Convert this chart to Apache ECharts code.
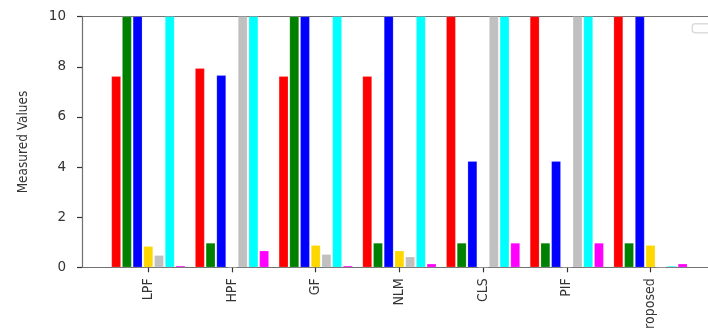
<!DOCTYPE html>
<html>
<head>
<meta charset="utf-8">
<script src="https://cdn.jsdelivr.net/npm/echarts@6/dist/echarts.min.js"></script>
<style>
  html, body { margin: 0; padding: 0; background: #fff; }
  #chart { width: 708px; height: 328px; }
</style>
</head>
<body>
<div id="chart"></div>
<script>
// Filtering methods compared along the x axis
var methods = ['LPF', 'HPF', 'GF', 'NLM', 'CLS', 'PIF', 'Proposed'];

// One array per measure (values above 10 run off the top of the axis)
var measureRed     = [7.62, 7.94, 7.62, 7.62, 12, 12, 12];
var measureGreen   = [12, 0.97, 12, 0.97, 0.97, 0.97, 0.97];
var measureBlue    = [12, 7.66, 12, 12, 4.23, 4.23, 12];
var measureGold    = [0.84, 0, 0.88, 0.66, 0, 0, 0.88];
var measureSilver  = [0.48, 12, 0.52, 0.42, 12, 12, 0];
var measureCyan    = [12, 12, 12, 12, 12, 12, 0.05];
var measureMagenta = [0.06, 0.66, 0.06, 0.14, 0.97, 0.97, 0.14];

var yTicks = [0, 2, 4, 6, 8, 10];

var measures = [
  { name: 'M1', data: measureRed,     color: '#ff0000' },
  { name: 'M2', data: measureGreen,   color: '#008000' },
  { name: 'M3', data: measureBlue,    color: '#0000ff' },
  { name: 'M4', data: measureGold,    color: '#ffd700' },
  { name: 'M5', data: measureSilver,  color: '#c0c0c0' },
  { name: 'M6', data: measureCyan,    color: '#00ffff' },
  { name: 'M7', data: measureMagenta, color: '#ff00ff' }
];

var spine = '#707070';
var textColor = '#333';
var narrowFont = '"DejaVu Sans Condensed", "Liberation Sans Narrow", "Liberation Sans", sans-serif';

var chart = echarts.init(document.getElementById('chart'), null, { renderer: 'canvas' });

var option = {
  animation: false,
  backgroundColor: '#fff',
  grid: [
    // bar area: one band per method
    { left: 106.45, right: 15.65, top: 16.7, bottom: 60.7, containLabel: false, outerBoundsMode: 'none' },
    // frame around the plot (extends a little past the right edge)
    { left: 82, right: -9, top: 16.7, bottom: 60.7, containLabel: false, outerBoundsMode: 'none' }
  ],
  xAxis: [
    {
      type: 'category',
      gridIndex: 0,
      data: methods,
      boundaryGap: true,
      axisLine: { show: false },
      axisTick: { show: true, alignWithLabel: true, length: 5, lineStyle: { color: '#333', width: 1.2 } },
      axisLabel: {
        rotate: 90,
        margin: 11,
        color: textColor,
        fontFamily: narrowFont,
        fontSize: 14,
        interval: 0
      },
      splitLine: { show: false }
    },
    {
      type: 'value', gridIndex: 1, position: 'bottom', min: 0, max: 1,
      axisLine: { show: true, lineStyle: { color: spine, width: 1.2 } },
      axisTick: { show: false }, axisLabel: { show: false }, splitLine: { show: false }
    },
    {
      type: 'value', gridIndex: 1, position: 'top', min: 0, max: 1,
      axisLine: { show: true, lineStyle: { color: spine, width: 1.2 } },
      axisTick: { show: false }, axisLabel: { show: false }, splitLine: { show: false }
    }
  ],
  yAxis: [
    {
      type: 'value', gridIndex: 0, min: 0, max: 10,
      show: false
    },
    {
      type: 'value', gridIndex: 1, min: 0, max: 10, interval: 2,
      position: 'left',
      name: 'Measured Values',
      nameLocation: 'middle',
      nameGap: 52,
      nameRotate: 90,
      nameTextStyle: {
        color: textColor,
        fontFamily: narrowFont,
        fontSize: 13.5
      },
      axisLine: { show: true, lineStyle: { color: spine, width: 1.2 } },
      axisTick: { show: true, length: 5, lineStyle: { color: '#333', width: 1.2 } },
      axisLabel: {
        margin: 16,
        color: textColor,
        fontFamily: '"DejaVu Sans", sans-serif',
        fontSize: 13.5,
        formatter: function (v) { return yTicks.indexOf(v) >= 0 ? String(v) : ''; }
      },
      splitLine: { show: false }
    }
  ],
  graphic: [
    {
      // empty legend frame in the top-right corner
      type: 'rect',
      right: -20,
      top: 23,
      shape: { width: 35, height: 9, r: 3 },
      style: { fill: '#fff', stroke: '#dcdcdc', lineWidth: 1.5 }
    }
  ],
  series: measures.map(function (m) {
    return {
      name: m.name,
      type: 'bar',
      xAxisIndex: 0,
      yAxisIndex: 0,
      data: m.data,
      barWidth: 9.4,
      barGap: '14%',
      clip: true,
      itemStyle: { color: m.color, borderColor: 'rgba(255,255,255,0.35)', borderWidth: 0.5 }
    };
  })
};

chart.setOption(option);
</script>
</body>
</html>
